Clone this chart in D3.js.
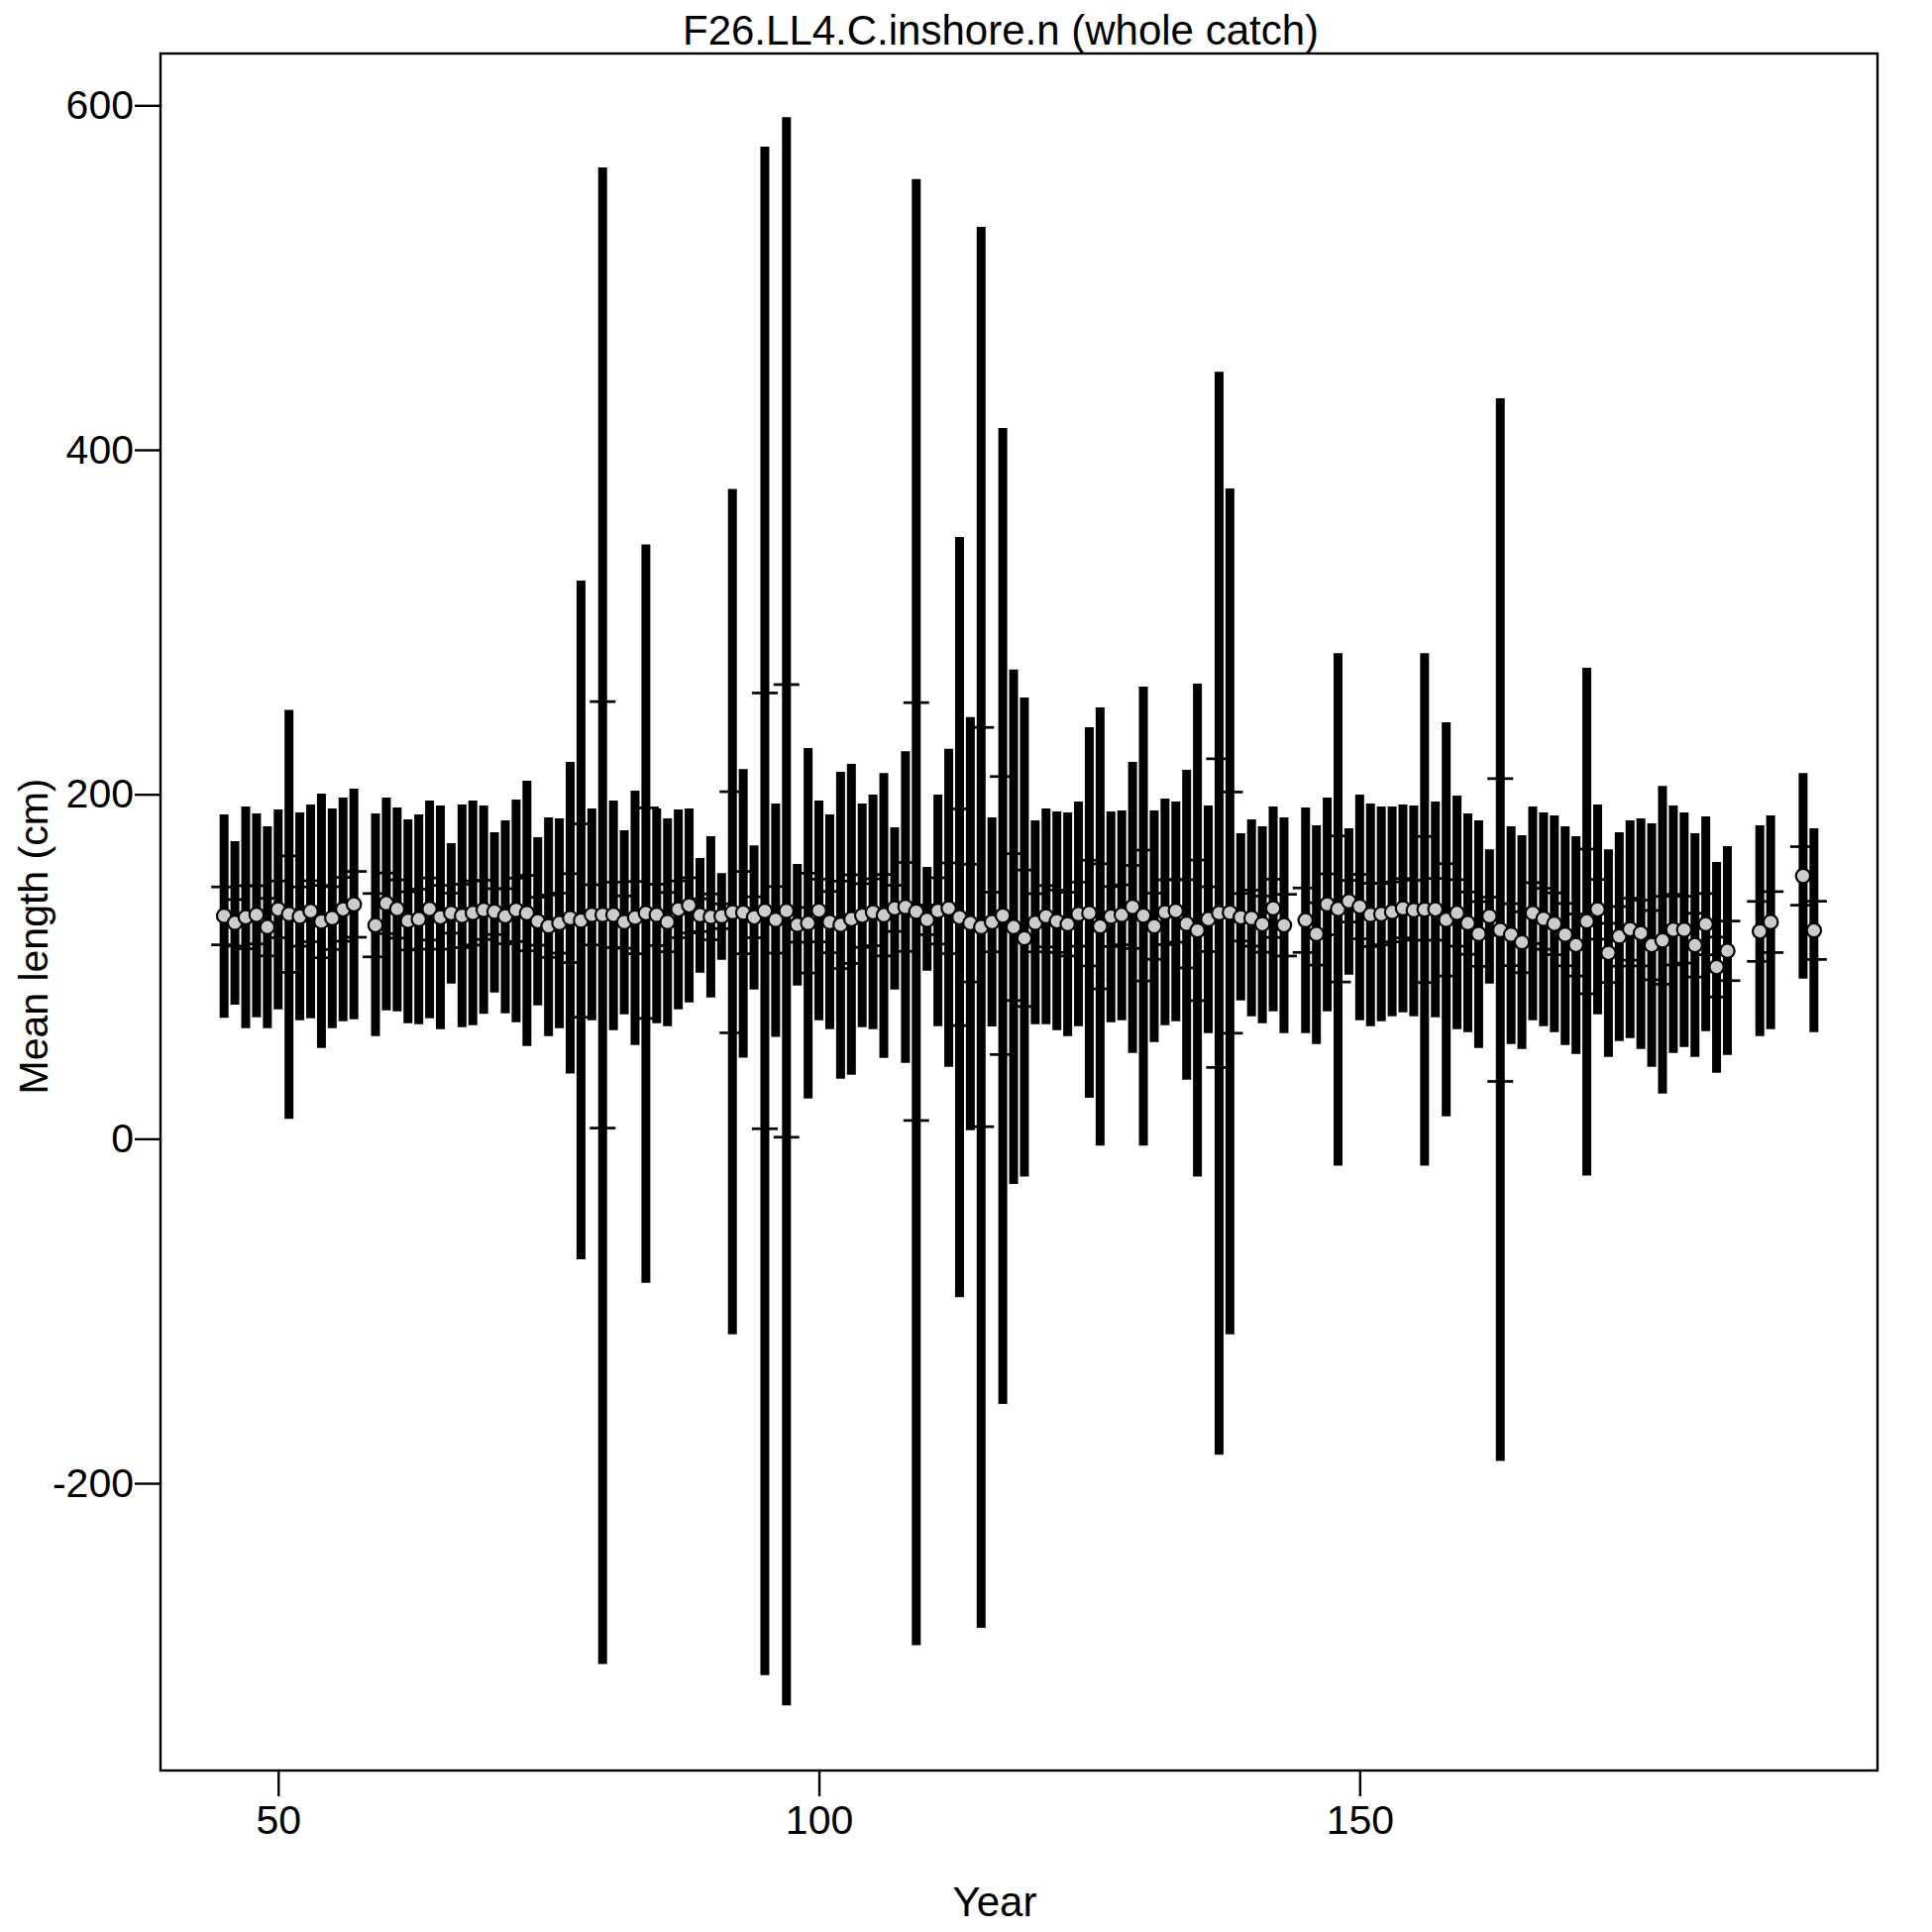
<!DOCTYPE html>
<html>
<head>
<meta charset="utf-8">
<script src="https://cdn.jsdelivr.net/npm/d3@7"></script>
<style>
  html, body { margin: 0; padding: 0; background: #ffffff; }
  svg { display: block; }
  text { font-family: "Liberation Sans", Arial, sans-serif; fill: #000; }
</style>
</head>
<body>
<script>
// ---------------- DATA ----------------
const chartTitle = "F26.LL4.C.inshore.n (whole catch)";
const xLabel = "Year";
const yLabel = "Mean length (cm)";
const xTicks = [50, 100, 150];
const yTicks = [-200, 0, 200, 400, 600];

const years = [45,46,47,48,49,50,51,52,53,54,55,56,57,
  59,60,61,62,63,64,65,66,67,68,69,70,71,72,73,74,75,76,77,78,79,80,81,82,83,84,85,86,87,88,89,90,
  91,92,93,94,95,96,97,98,99,100,101,102,103,104,105,106,107,108,109,110,111,112,113,114,115,116,117,118,119,120,
  121,122,123,124,125,126,127,128,129,130,131,132,133,134,135,136,137,138,139,140,141,142,143,
  145,146,147,148,149,150,151,152,153,154,155,156,157,158,159,160,161,162,163,164,165,166,167,168,169,170,
  171,172,173,174,175,176,177,178,179,180,181,182,183,184,187,188,191,192];

// observed mean length
const meanLen = [129.4,125.4,128.6,130.0,122.9,133.2,130.4,129.0,132.1,126.1,128.1,133.2,136.1,
  124.0,136.7,133.4,126.5,127.5,133.4,128.6,131.0,129.4,131.1,132.9,131.9,129.2,132.9,131.0,126.3,123.4,125.2,128.1,126.7,130.0,130.0,130.0,125.8,128.4,131.0,130.0,125.8,133.2,135.5,129.8,128.8,
  129.2,131.5,131.3,128.6,132.3,127.1,132.3,124.2,125.2,132.5,125.8,124.2,127.5,129.6,131.5,129.8,133.8,134.6,131.9,127.1,132.3,133.8,128.6,125.2,122.9,125.8,129.6,122.9,116.4,125.4,
  129.2,126.3,124.6,130.4,131.0,123.3,129.0,130.0,134.6,129.6,123.4,131.5,132.3,124.8,121.0,127.5,131.0,131.3,128.6,128.1,124.6,133.8,124.0,
  126.9,118.9,136.1,133.4,137.9,134.8,130.0,130.4,131.7,133.8,132.7,133.1,133.2,127.1,131.1,125.2,118.9,129.2,121.2,118.5,114.1,131.0,127.7,124.8,118.5,112.5,
  126.2,133.2,107.9,117.5,121.7,119.4,112.4,115.2,121.4,121.4,112.4,124.6,99.7,109.1,120.4,125.8,152.6,121.0];

// wide (thick) interval
const ciHi = [188.3,172.8,192.9,188.9,181.4,191.2,249.0,189.5,194.0,200.4,191.7,198.1,203.2,
  188.9,198.1,192.3,185.4,188.3,196.3,193.5,171.6,194.0,196.3,193.5,177.9,184.8,196.9,207.8,175.1,186.6,186.0,218.8,324.0,191.7,564.0,196.3,179.1,202.1,345.0,191.7,186.0,191.2,191.7,163.0,175.6,
  154.3,377.3,214.7,170.4,576.0,194.6,593.2,159.5,226.9,196.3,188.3,213.0,217.6,194.6,199.8,212.4,180.8,225.0,557.2,157.8,199.8,226.4,349.4,244.8,529.5,186.6,412.6,272.4,256.2,184.8,
  191.7,190.0,189.5,195.8,238.9,250.4,190.0,190.6,218.8,262.5,190.6,197.5,195.8,214.2,264.2,193.5,445.3,377.6,177.4,185.4,181.4,192.9,186.6,
  192.3,182.0,198.1,282.0,180.2,199.8,194.6,192.9,192.9,194.0,193.5,282.0,195.8,241.8,199.2,188.9,184.8,168.1,429.9,181.4,176.2,192.9,189.5,187.7,181.4,175.6,
  273.4,194.0,168.1,177.9,184.8,186.0,183.1,204.9,193.5,189.5,177.4,187.1,160.7,169.9,182.0,187.7,212.4,180.2];
const ciLo = [70.2,77.8,64.2,70.5,64.2,75.1,11.6,68.8,70.0,52.7,64.2,68.2,69.4,
  59.6,74.6,74.0,67.1,66.5,70.0,63.6,90.1,64.8,65.9,72.5,84.9,72.8,67.7,53.9,77.4,59.6,64.2,37.9,-70.0,68.8,-305.0,63.1,72.3,54.4,-83.6,67.1,65.4,75.1,79.2,96.4,82.0,
  103.9,-113.6,47.1,86.6,-311.5,59.1,-329.0,88.9,23.4,68.8,63.6,34.9,37.2,64.8,63.6,46.9,86.6,44.1,-294.0,97.6,65.4,41.8,-92.0,5.0,-284.0,65.2,-154.0,-26.3,-22.0,66.5,
  66.5,63.1,59.6,65.4,23.8,-4.0,67.7,68.8,49.8,-4.0,56.2,65.9,68.2,34.3,-22.0,61.3,-183.5,-113.6,80.3,71.1,67.1,74.0,61.3,
  61.3,55.0,74.0,-15.6,95.3,68.8,65.4,68.2,71.1,73.4,71.1,-15.6,70.5,13.0,63.6,61.9,52.7,90.1,-187.0,55.0,52.1,68.8,65.4,61.9,54.4,49.2,
  -21.3,72.3,47.5,56.7,58.4,52.1,41.8,26.2,49.8,53.3,47.5,62.5,38.3,48.7,59.6,63.6,93.0,61.9];

// adjusted (thin, capped) interval
const adjHi = [146.2,138.9,146.9,146.9,139.6,149.7,164.2,146.2,149.8,147.1,146.3,151.7,155.2,
  142.4,154.3,150.3,143.4,144.9,151.4,147.1,142.6,147.8,149.7,150.1,145.2,145.2,151.3,152.9,140.2,141.5,142.6,153.9,182.8,147.5,253.8,149.0,141.0,149.4,192.1,147.8,143.0,149.7,151.5,139.3,142.1,
  136.4,201.5,155.2,140.5,258.8,146.4,263.7,134.3,154.2,150.7,143.6,149.6,153.2,148.1,150.9,153.4,147.2,160.4,253.2,135.7,151.5,160.1,191.5,159.4,238.8,143.1,210.3,165.5,156.0,142.3,
  147.0,144.4,143.1,149.0,161.7,159.6,146.4,147.4,158.7,167.6,142.6,150.3,150.5,150.4,161.8,146.3,220.6,201.3,142.4,144.4,140.9,150.7,141.9,
  145.6,137.0,153.8,175.8,150.0,153.5,148.4,148.2,149.1,151.0,150.1,175.5,151.1,159.7,150.4,143.3,137.7,140.3,209.1,136.5,131.8,148.7,145.4,142.7,136.6,130.5,
  168.2,150.5,125.1,134.8,139.7,138.5,132.5,140.7,141.9,140.8,130.9,142.4,117.1,126.4,137.8,143.5,169.6,137.9];
const adjLo = [112.6,111.9,110.3,113.1,106.2,116.7,96.6,111.8,114.4,105.1,109.9,114.7,117.0,
  105.6,119.1,116.5,109.6,110.1,115.4,110.1,119.4,111.0,112.5,115.7,118.6,113.2,114.5,109.1,112.4,105.3,107.8,102.3,70.6,112.5,6.2,111.0,110.6,107.4,69.9,112.2,108.6,116.7,119.5,120.3,115.5,
  122.0,61.5,107.4,116.7,5.8,107.8,0.9,114.1,96.2,114.3,108.0,98.8,101.8,111.1,112.1,106.2,120.4,108.8,10.6,118.5,113.1,107.5,65.7,91.0,7.0,108.5,48.9,80.3,76.8,108.5,
  111.4,108.2,106.1,111.8,100.3,87.0,111.6,112.6,110.5,91.6,104.2,112.7,114.1,99.2,80.2,108.7,41.4,61.3,114.8,111.8,108.3,116.9,106.1,
  108.2,100.8,118.4,91.0,125.8,116.1,111.6,112.6,114.3,116.6,115.3,90.7,115.3,94.5,111.8,107.1,100.1,118.1,33.3,100.5,96.4,113.3,110.0,106.9,100.4,94.5,
  84.2,115.9,90.7,100.2,103.7,100.3,92.3,89.7,100.9,102.0,93.9,106.8,82.3,91.8,103.0,108.1,135.6,104.1];

// ---------------- DRAW ----------------
const W = 1950, H = 1950;
const plot = { left: 162, right: 1895, top: 54, bottom: 1787 };

const svg = d3.select("body").append("svg")
  .attr("width", W).attr("height", H)
  .attr("viewBox", `0 0 ${W} ${H}`);
svg.append("rect").attr("width", W).attr("height", H).attr("fill", "#fff");

const x = d3.scaleLinear().domain([39.12, 197.88]).range([plot.left, plot.right]);
const y = d3.scaleLinear().domain([-366.8, 630.1]).range([plot.bottom, plot.top]);

const data = years.map((yr, i) => ({
  yr, m: meanLen[i], lo: ciLo[i], hi: ciHi[i], alo: adjLo[i], ahi: adjHi[i]
}));

const g = svg.append("g");

// thin adjusted interval with caps
const capHalf = 13;
const adj = g.append("g").attr("stroke", "#000").attr("fill", "none");
data.forEach(d => {
  const cx = x(d.yr);
  adj.append("line").attr("x1", cx).attr("x2", cx).attr("y1", y(d.ahi)).attr("y2", y(d.alo))
    .attr("stroke-width", 1.5);
  adj.append("line").attr("x1", cx - capHalf).attr("x2", cx + capHalf).attr("y1", y(d.ahi)).attr("y2", y(d.ahi))
    .attr("stroke-width", 2.7);
  adj.append("line").attr("x1", cx - capHalf).attr("x2", cx + capHalf).attr("y1", y(d.alo)).attr("y2", y(d.alo))
    .attr("stroke-width", 2.7);
});

// thick intervals
g.append("g").selectAll("line").data(data).join("line")
  .attr("x1", d => x(d.yr)).attr("x2", d => x(d.yr))
  .attr("y1", d => y(d.hi)).attr("y2", d => y(d.lo))
  .attr("stroke", "#000").attr("stroke-width", 9).attr("stroke-linecap", "butt");

// points
g.append("g").selectAll("circle").data(data).join("circle")
  .attr("cx", d => x(d.yr)).attr("cy", d => y(d.m)).attr("r", 7.2)
  .attr("fill", "#cccccc").attr("stroke", "#000").attr("stroke-width", 2.2);

// box
svg.append("rect")
  .attr("x", plot.left).attr("y", plot.top)
  .attr("width", plot.right - plot.left).attr("height", plot.bottom - plot.top)
  .attr("fill", "none").attr("stroke", "#000").attr("stroke-width", 2.4);

// axes
const fs = 41;
const xAxis = d3.axisBottom(x).tickValues(xTicks).tickSize(26).tickPadding(9).tickFormat(d3.format("d"));
const xg = svg.append("g").attr("transform", `translate(0,${plot.bottom})`).call(xAxis);
const yAxis = d3.axisLeft(y).tickValues(yTicks).tickSize(26).tickPadding(1).tickFormat(d => d < 0 ? "-" + Math.abs(d) : String(d));
const yg = svg.append("g").attr("transform", `translate(${plot.left},0)`).call(yAxis);
[xg, yg].forEach(a => {
  a.select(".domain").remove();
  a.selectAll(".tick line").attr("stroke", "#000").attr("stroke-width", 2.4);
  a.selectAll(".tick text").attr("font-size", fs).attr("font-family", "Liberation Sans, Arial, sans-serif").attr("fill", "#000");
});

// labels
svg.append("text").attr("x", 1010).attr("y", 45).attr("text-anchor", "middle")
  .attr("font-size", 42).text(chartTitle);
svg.append("text").attr("x", 1004).attr("y", 1934).attr("text-anchor", "middle")
  .attr("font-size", 42).text(xLabel);
svg.append("text").attr("transform", "translate(48,945) rotate(-90)").attr("text-anchor", "middle")
  .attr("font-size", 41).text(yLabel);
</script>
</body>
</html>
